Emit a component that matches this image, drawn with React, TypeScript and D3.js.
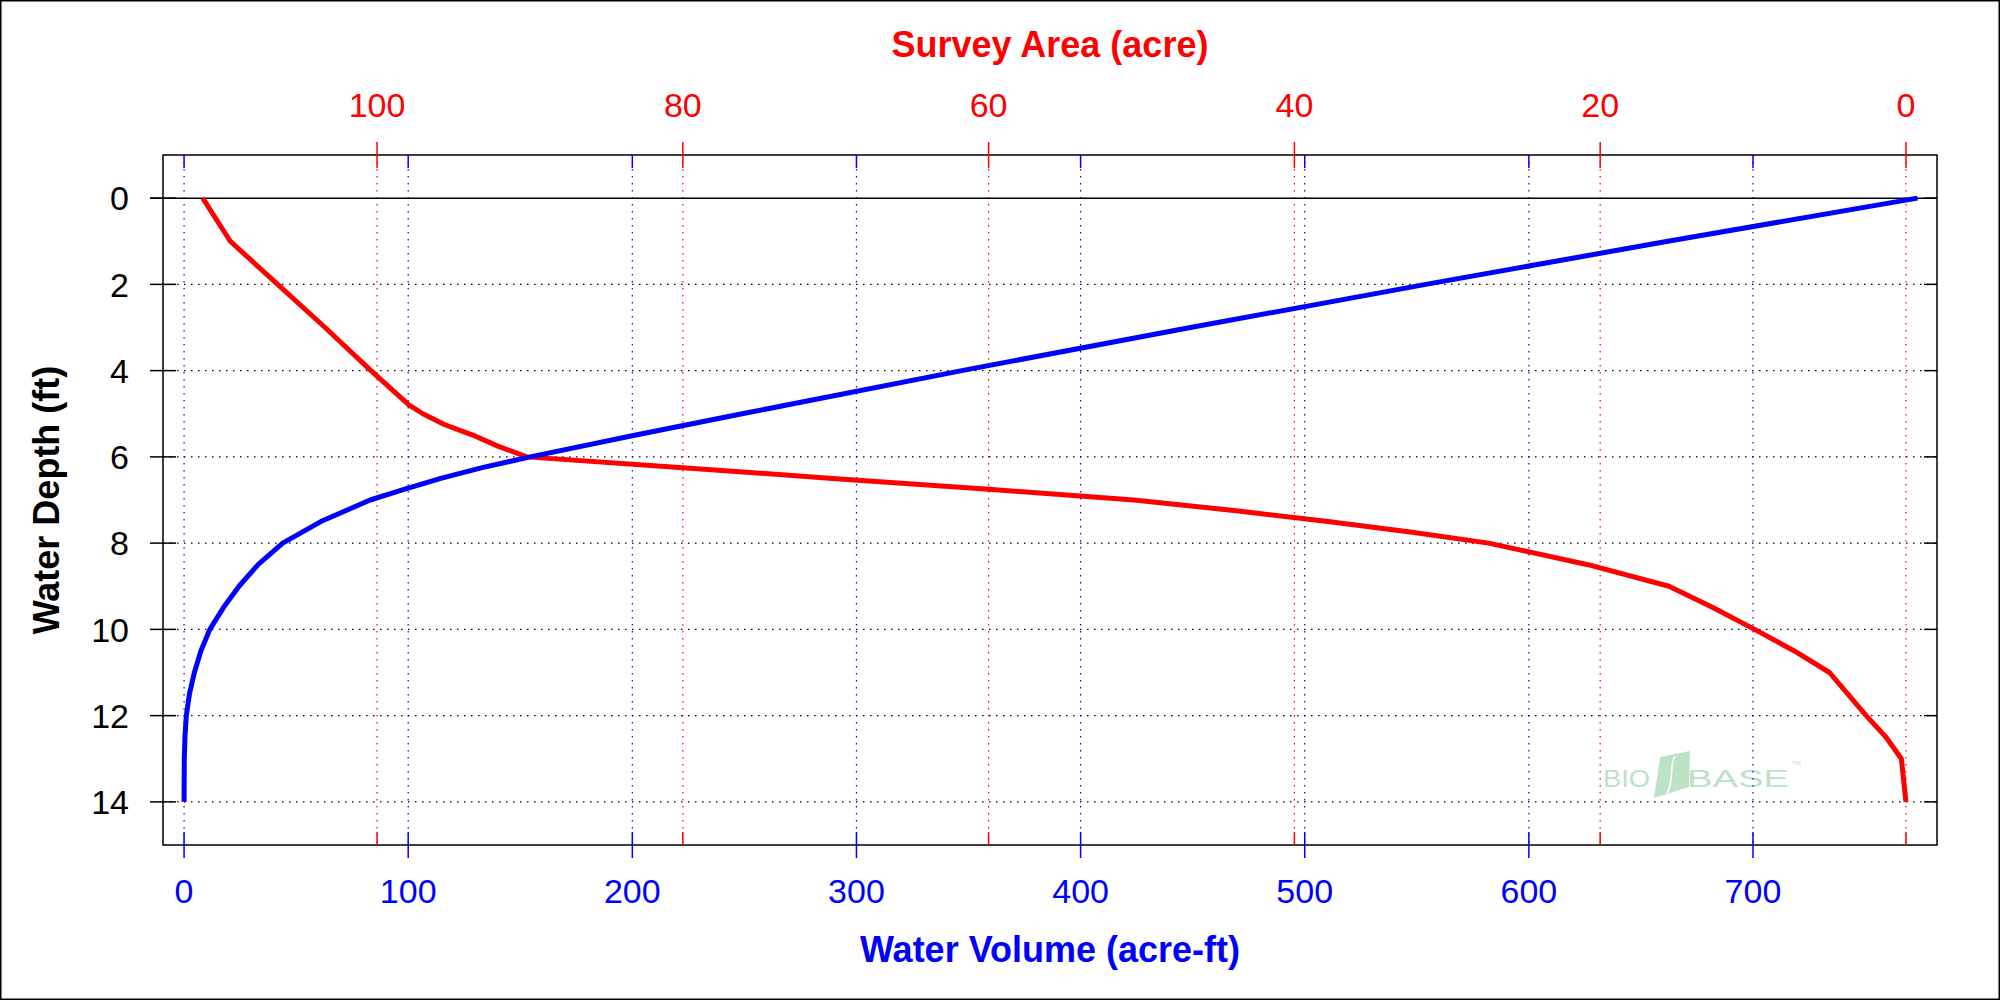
import React, { useEffect, useRef } from "react";
import * as d3 from "d3";

// survey area (acre) by water depth (ft) - red curve
const areaDepth = [0, 1, 2, 3, 4, 4.8, 5, 5.25, 5.5, 5.75, 6, 6.25, 6.5, 6.75, 7, 7.25, 7.5, 7.75, 8, 8.5, 9, 9.5, 10, 10.5, 11, 11.5, 12, 12.5, 13, 14];
const areaValues = [111.4, 109.6, 106.5, 103.4, 100.4, 97.9, 97.0, 95.6, 93.7, 92.1, 90.2, 80.0, 70.2, 60.0, 50.5, 43.8, 37.8, 32.3, 27.3, 20.8, 15.5, 12.6, 9.9, 7.3, 5.0, 3.8, 2.6, 1.3, 0.3, 0];

// water volume (acre-ft) by water depth (ft) - blue curve
const volumeDepth = [0, 1, 2, 3, 4, 5, 5.5, 6, 6.25, 6.5, 6.75, 7, 7.5, 8, 8.5, 9, 9.5, 10, 10.5, 11, 11.5, 12, 12.5, 13, 14];
const volumeValues = [773.4, 662, 554, 449, 347, 249, 201, 154.5, 133, 114.5, 98.5, 83, 61, 44, 33, 24.5, 17.5, 11.5, 7.5, 4.6, 2.4, 1.0, 0.4, 0.1, 0];

const depthTicks = [0, 2, 4, 6, 8, 10, 12, 14];
const volumeTicks = [0, 100, 200, 300, 400, 500, 600, 700];
const areaTicks = [0, 20, 40, 60, 80, 100];

const FONT = "'Liberation Sans', Arial, sans-serif";

const App = () => {
  const svgRef = useRef<SVGSVGElement>(null);

  useEffect(() => {
    const svg = d3.select(svgRef.current);
    svg.selectAll("*").remove();

    const width = 2000;
    const height = 1000;
    const left = 163, right = 1937, top = 155, bottom = 845;

    const y = d3.scaleLinear().domain([-1, 15]).range([top, bottom]);
    const xVol = d3.scaleLinear().domain([-9.4, 782.1]).range([left, right]);
    const xArea = d3.scaleLinear().domain([114, -2.03]).range([left, right]);

    svg.attr("width", width).attr("height", height);

    svg.append("rect")
      .attr("width", width).attr("height", height).attr("fill", "white");

    // outer border
    svg.append("rect")
      .attr("x", 0.75).attr("y", 0.75)
      .attr("width", width - 1.5).attr("height", height - 1.5)
      .attr("fill", "none").attr("stroke", "black").attr("stroke-width", 1.5);

    // watermark
    const logo = svg.append("g").attr("fill", "#bde2c5");
    logo.append("text")
      .attr("x", 1603).attr("y", 787)
      .attr("textLength", 47).attr("lengthAdjust", "spacingAndGlyphs")
      .style("font-family", FONT).style("font-size", "23px").style("font-weight", 300)
      .text("BIO");
    logo.append("path")
      .attr("d", "M1660,757 L1690,751 L1689,787 L1654,798 Z");
    logo.append("path")
      .attr("d", "M1675,756 C1668,768 1676,776 1666,796")
      .attr("fill", "none").attr("stroke", "white").attr("stroke-width", 1.5);
    logo.append("text")
      .attr("x", 1687).attr("y", 787)
      .attr("textLength", 102).attr("lengthAdjust", "spacingAndGlyphs")
      .style("font-family", FONT).style("font-size", "23px").style("font-weight", 300)
      .text("BASE");
    logo.append("text")
      .attr("x", 1792).attr("y", 765)
      .style("font-family", FONT).style("font-size", "6px")
      .text("TM");

    // grid lines
    svg.append("g").selectAll("line")
      .data(depthTicks.filter(d => d !== 0))
      .enter().append("line")
      .attr("x1", left).attr("x2", right)
      .attr("y1", d => y(d)).attr("y2", d => y(d))
      .attr("stroke", "black").attr("stroke-width", 1.2)
      .attr("stroke-dasharray", "1.5,5.5");

    svg.append("g").selectAll("line")
      .data(volumeTicks)
      .enter().append("line")
      .attr("x1", d => xVol(d)).attr("x2", d => xVol(d))
      .attr("y1", top).attr("y2", bottom)
      .attr("stroke", "blue").attr("stroke-width", 1.2)
      .attr("stroke-dasharray", "1.5,5.5");

    svg.append("g").selectAll("line")
      .data(areaTicks)
      .enter().append("line")
      .attr("x1", d => xArea(d)).attr("x2", d => xArea(d))
      .attr("y1", top).attr("y2", bottom)
      .attr("stroke", "red").attr("stroke-width", 1.2)
      .attr("stroke-dasharray", "1.5,5.5");

    // zero depth line
    svg.append("line")
      .attr("x1", left - 13).attr("x2", right)
      .attr("y1", y(0)).attr("y2", y(0))
      .attr("stroke", "black").attr("stroke-width", 1.5);

    // curves
    const areaLine = d3.line<number>()
      .x((_, i) => xArea(areaValues[i]))
      .y(d => y(d));
    svg.append("path")
      .attr("d", areaLine(areaDepth))
      .attr("fill", "none").attr("stroke", "#ff0000")
      .attr("stroke-width", 5).attr("stroke-linejoin", "round");

    const volLine = d3.line<number>()
      .x((_, i) => xVol(volumeValues[i]))
      .y(d => y(d));
    svg.append("path")
      .attr("d", volLine(volumeDepth))
      .attr("fill", "none").attr("stroke", "#0000ff")
      .attr("stroke-width", 5).attr("stroke-linejoin", "round");

    // plot frame
    svg.append("rect")
      .attr("x", left).attr("y", top)
      .attr("width", right - left).attr("height", bottom - top)
      .attr("fill", "none").attr("stroke", "black").attr("stroke-width", 1.5);

    // left axis ticks + labels
    const yAxis = svg.append("g");
    yAxis.selectAll("line.out")
      .data(depthTicks)
      .enter().append("line")
      .attr("x1", left - 13).attr("x2", left + 13)
      .attr("y1", d => y(d)).attr("y2", d => y(d))
      .attr("stroke", "black").attr("stroke-width", 1.5);
    yAxis.selectAll("line.in")
      .data(depthTicks)
      .enter().append("line")
      .attr("x1", right - 13).attr("x2", right)
      .attr("y1", d => y(d)).attr("y2", d => y(d))
      .attr("stroke", "black").attr("stroke-width", 1.5);
    yAxis.selectAll("text")
      .data(depthTicks)
      .enter().append("text")
      .attr("x", 129).attr("y", d => y(d)).attr("dy", "0.36em")
      .attr("text-anchor", "end")
      .style("font-family", FONT).style("font-size", "34px").style("fill", "black")
      .text(d => d);

    // bottom axis (volume)
    const xAxis = svg.append("g");
    xAxis.selectAll("line.b")
      .data(volumeTicks)
      .enter().append("line")
      .attr("x1", d => xVol(d)).attr("x2", d => xVol(d))
      .attr("y1", bottom - 13).attr("y2", bottom + 13)
      .attr("stroke", "blue").attr("stroke-width", 1.5);
    xAxis.selectAll("line.t")
      .data(volumeTicks)
      .enter().append("line")
      .attr("x1", d => xVol(d)).attr("x2", d => xVol(d))
      .attr("y1", top).attr("y2", top + 13)
      .attr("stroke", "blue").attr("stroke-width", 1.5);
    xAxis.selectAll("text")
      .data(volumeTicks)
      .enter().append("text")
      .attr("x", d => xVol(d)).attr("y", 903)
      .attr("text-anchor", "middle")
      .style("font-family", FONT).style("font-size", "34px").style("fill", "blue")
      .text(d => d);

    // top axis (area)
    const x2Axis = svg.append("g");
    x2Axis.selectAll("line.t")
      .data(areaTicks)
      .enter().append("line")
      .attr("x1", d => xArea(d)).attr("x2", d => xArea(d))
      .attr("y1", top - 13).attr("y2", top + 13)
      .attr("stroke", "red").attr("stroke-width", 1.5);
    x2Axis.selectAll("line.b")
      .data(areaTicks)
      .enter().append("line")
      .attr("x1", d => xArea(d)).attr("x2", d => xArea(d))
      .attr("y1", bottom - 13).attr("y2", bottom)
      .attr("stroke", "red").attr("stroke-width", 1.5);
    x2Axis.selectAll("text")
      .data(areaTicks)
      .enter().append("text")
      .attr("x", d => xArea(d)).attr("y", 117)
      .attr("text-anchor", "middle")
      .style("font-family", FONT).style("font-size", "34px").style("fill", "red")
      .text(d => d);

    // titles
    svg.append("text")
      .attr("x", (left + right) / 2).attr("y", 57)
      .attr("text-anchor", "middle")
      .style("font-family", FONT).style("font-size", "36px").style("font-weight", "bold")
      .style("fill", "red")
      .text("Survey Area (acre)");

    svg.append("text")
      .attr("x", (left + right) / 2).attr("y", 962)
      .attr("text-anchor", "middle")
      .style("font-family", FONT).style("font-size", "36px").style("font-weight", "bold")
      .style("fill", "blue")
      .text("Water Volume (acre-ft)");

    svg.append("text")
      .attr("transform", `translate(59,${(top + bottom) / 2}) rotate(-90)`)
      .attr("text-anchor", "middle")
      .style("font-family", FONT).style("font-size", "36px").style("font-weight", "bold")
      .style("fill", "black")
      .text("Water Depth (ft)");
  }, []);

  return <svg ref={svgRef} style={{ position: "absolute", left: 0, top: 0 }} />;
};

export default App;
